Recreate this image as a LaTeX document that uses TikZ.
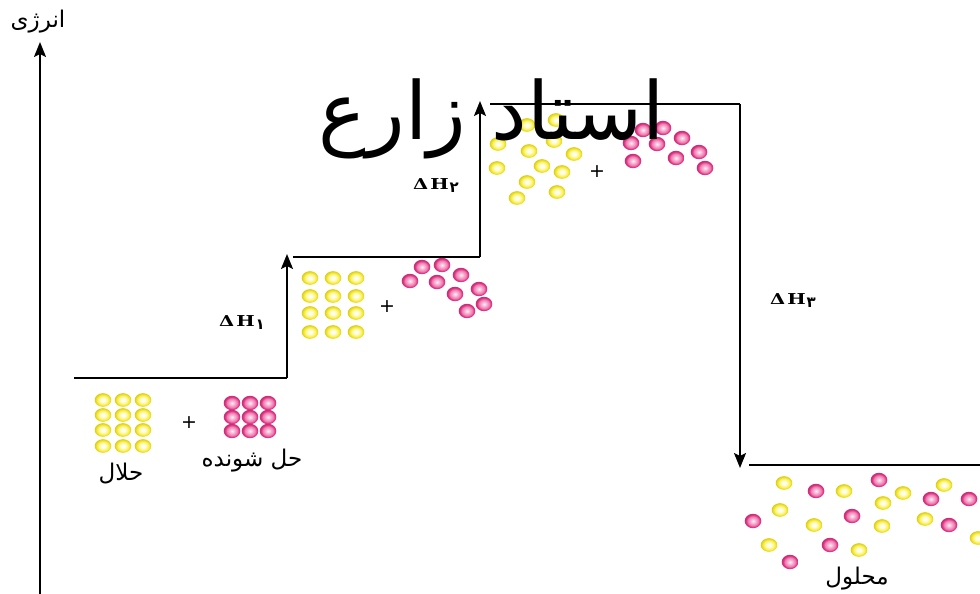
\documentclass[tikz,border=0pt]{standalone}
\usepackage{fontspec}
\usetikzlibrary{arrows.meta}
\TeXXeTstate=1
\newfontfamily\fa[Script=Arabic]{DejaVu Sans}
\newfontfamily\dhfont{DejaVu Serif}

% particle colours
\definecolor{yrim}{RGB}{240,226,30}
\definecolor{ymid}{RGB}{250,242,100}
\definecolor{prim}{RGB}{222,48,128}
\definecolor{pmid}{RGB}{238,120,175}

\pgfdeclareradialshading{yshade}{\pgfpoint{0bp}{0bp}}{%
  color(0bp)=(white); color(7bp)=(white!80!ymid); color(16bp)=(ymid);
  color(21bp)=(yrim); color(25bp)=(yrim!90!black); color(50bp)=(yrim!90!black)}
\pgfdeclareradialshading{pshade}{\pgfpoint{0bp}{0bp}}{%
  color(0bp)=(white!90!pmid); color(5bp)=(white!60!pmid); color(16bp)=(pmid);
  color(21bp)=(prim); color(25bp)=(prim!90!black); color(50bp)=(prim!90!black)}

\newcommand{\yb}[1]{\shade[shading=yshade] (#1) ellipse [x radius=8.3, y radius=6.8];}
\newcommand{\pb}[1]{\shade[shading=pshade] (#1) ellipse [x radius=8.3, y radius=7.2];}
% enthalpy label: wide bold Delta H with a Persian-digit index
\newcommand{\dhtext}[1]{\scalebox{1.3}[1]{Δ\hspace{1.5pt}H}\hspace{1pt}\raisebox{-3pt}{\fa\bfseries\fontsize{15}{16}\selectfont #1}}

\tikzset{
  level/.style={line width=2pt, black},
  jump/.style={line width=2pt, black, -{Stealth[length=15pt,width=12pt,inset=3pt]}},
  falabel/.style={font=\fa\fontsize{23}{26}\selectfont, inner sep=0pt},
  dh/.style={font=\dhfont\bfseries\fontsize{15}{17}\selectfont, inner sep=0pt},
  plus/.style={font=\fa\fontsize{19}{20}\selectfont, inner sep=0pt},
}

\begin{document}
\begin{tikzpicture}[x=1pt,y=-1pt]
\useasboundingbox (0,0) rectangle (980,594);
\fill[white] (0,0) rectangle (980,594);

% energy axis
\coordinate (axbot) at (40,594);
\coordinate (axtop) at (40,42);
\draw[jump] (axbot) -- (axtop);
\node[falabel] (axlabel) at (38,22) {\beginR انرژی\endR};

% energy levels
\coordinate (l1a) at (74,378);   \coordinate (l1b) at (287,378);
\coordinate (l2a) at (293,257);  \coordinate (l2b) at (480,257);
\coordinate (l3a) at (490,104);  \coordinate (l3b) at (740,104);
\coordinate (l4a) at (749,465);  \coordinate (l4b) at (980,465);
\coordinate (j1top) at (287,254);
\coordinate (j2top) at (480,101);
\coordinate (j3bot) at (740,468);

\draw[level] (l1a) -- (l1b);
\draw[level] (l2a) -- (l2b);
\draw[level] (l3a) -- (l3b);
\draw[level] (l4a) -- (l4b);
\draw[jump] (l1b) -- (j1top);
\draw[jump] (l2b) -- (j2top);
\draw[jump] (l3b) -- (j3bot);

\node[dh] (dh1) at (242,323) {\dhtext{۱}};
\node[dh] (dh2) at (436,186) {\dhtext{۲}};
\node[dh] (dh3) at (793,301) {\dhtext{۳}};

% solvent and solute, separated
\foreach \x in {103,123,143}
  \foreach \y in {400,415,430,446} {\yb{\x,\y}}
\foreach \x in {232,250,268}
  \foreach \y in {403,417,431} {\pb{\x,\y}}
\node[plus] (plus1) at (189,423) {+};
\node[falabel] (solvent) at (121,474) {\beginR حلال\endR};
\node[falabel] (solute) at (252,461) {\beginR حل شونده\endR};

% solvent particles pulled apart
\foreach \x in {310,333,356}
  \foreach \y in {278,296,313,332} {\yb{\x,\y}}
\node[plus] (plus2) at (387,307) {+};
\foreach \p in {{422,267},{442,265},{410,281},{437,282},{461,275},{455,294},{479,289},{467,311},{484,304}}
  {\pb{\p}}

% both sets of particles separated
\foreach \p in {{527,125},{556,120},{498,144},{554,141},{529,151},{574,154},{497,168},{542,166},{562,172},{527,182},{557,192},{517,198}}
  {\yb{\p}}
\node[plus] (plus3) at (597,172) {+};
\foreach \p in {{643,130},{663,128},{631,143},{657,144},{682,138},{633,161},{676,158},{699,152},{705,168}}
  {\pb{\p}}

% mixed solution
\foreach \p in {{784,483},{844,491},{903,493},{944,485},{780,510},{883,503},{814,525},{882,526},{925,519},{769,545},{859,550},{978,538}}
  {\yb{\p}}
\foreach \p in {{879,480},{816,491},{931,499},{969,499},{753,521},{852,516},{949,525},{830,545},{790,562}}
  {\pb{\p}}
\node[falabel] (solution) at (857,579) {\beginR محلول\endR};

% title
\node[font=\fa\fontsize{80}{90}\selectfont, inner sep=0pt, anchor=base] (title) at (492,139) {\beginR استاد زارع\endR};
\end{tikzpicture}
\end{document}
